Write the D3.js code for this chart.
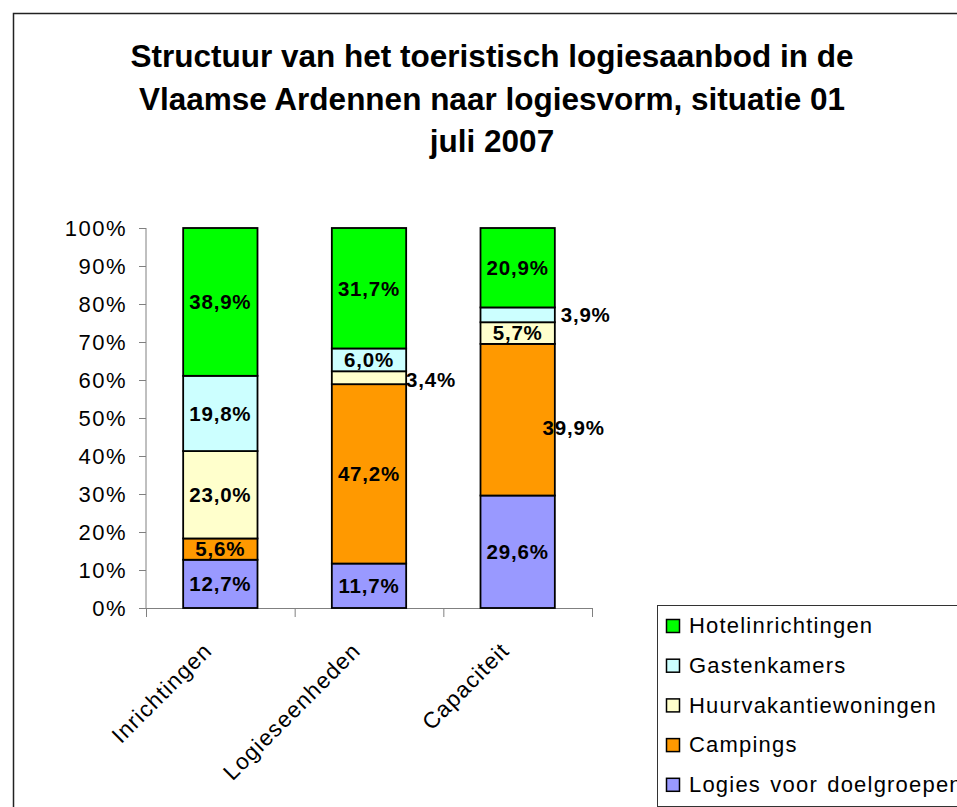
<!DOCTYPE html>
<html><head><meta charset="utf-8">
<script src="https://cdn.jsdelivr.net/npm/d3@7/dist/d3.min.js"></script>
<style>
html,body{margin:0;padding:0;background:#fff;overflow:hidden;}
text{font-family:Arial,"Liberation Sans",sans-serif;}
</style></head><body>
<svg id="chart" width="957" height="807"></svg>
<script>
const titleLines = ["Structuur van het toeristisch logiesaanbod in de","Vlaamse Ardennen naar logiesvorm, situatie 01","juli 2007"];
const categories = ["Inrichtingen","Logieseenheden","Capaciteit"];
const seriesNames = ["Logies voor doelgroepen","Campings","Huurvakantiewoningen","Gastenkamers","Hotelinrichtingen"];
const seriesColors = ["#9999FF","#FF9900","#FFFFCC","#CCFFFF","#00FF00"];
const logiesDoelgroepen = [12.7, 11.7, 29.6];
const campings = [5.6, 47.2, 39.9];
const huurvakantiewoningen = [23.0, 3.4, 5.7];
const gastenkamers = [19.8, 6.0, 3.9];
const hotelinrichtingen = [38.9, 31.7, 20.9];
const yTicks = [0,10,20,30,40,50,60,70,80,90,100];

const seriesValues = [logiesDoelgroepen, campings, huurvakantiewoningen, gastenkamers, hotelinrichtingen];
// manual label offsets (label moved beside its bar) keyed "series|category"
const labelShift = {"2|1":[62,2],"1|2":[56,8],"3|2":[68,0]};

const svg = d3.select("#chart");
// outer frame
svg.append("rect").attr("x",13.5).attr("y",13.5).attr("width",1000).attr("height",1000)
  .attr("fill","none").attr("stroke","#222").attr("stroke-width",1.5);

// title
svg.append("g").selectAll("text").data(titleLines).join("text")
  .attr("x",492).attr("y",(d,i)=>67+i*42.5)
  .attr("text-anchor","middle").attr("font-size",31.5).attr("font-weight","bold").attr("fill","#000")
  .text(d=>d);

const x0=146, x1=592, yTop=228, yBot=608;
const x = d3.scaleBand().domain(categories).range([x0,x1]).paddingInner(0.5).paddingOuter(0.25);
const y = d3.scaleLinear().domain([0,100]).range([yBot,yTop]);

// stack
const table = categories.map((c,ci)=>{const o={cat:c}; seriesNames.forEach((s,si)=>o[s]=seriesValues[si][ci]); return o;});
const stacked = d3.stack().keys(seriesNames)(table);

// axes
const yAxis = d3.axisLeft(y).tickValues(yTicks).tickFormat(d=>d+"%").tickSize(7).tickPadding(12);
const gy = svg.append("g").attr("transform",`translate(${x0},0)`).call(yAxis);
gy.selectAll("path,line").attr("stroke","#808080").attr("stroke-width",1);
gy.select(".domain").attr("d",`M0,${yTop}V${yBot}`);
gy.selectAll("text").attr("font-size",22).attr("letter-spacing","1.5px").attr("fill","#000")
  .style("font-family","Arial, 'Liberation Sans', sans-serif");

const xb = d3.scaleLinear().domain([0,categories.length]).range([x0,x1]);
const gx = svg.append("g").attr("transform",`translate(0,${yBot})`)
  .call(d3.axisBottom(xb).tickValues(d3.range(categories.length+1)).tickFormat("").tickSize(9).tickSizeOuter(0));
gx.selectAll("path,line").attr("stroke","#808080").attr("stroke-width",1);

// bars
const gBars = svg.append("g");
stacked.forEach((layer,si)=>{
  gBars.append("g").selectAll("rect").data(layer).join("rect")
    .attr("x",d=>x(d.data.cat)).attr("width",x.bandwidth())
    .attr("y",d=>y(d[1])).attr("height",d=>y(d[0])-y(d[1]))
    .attr("fill",seriesColors[si]).attr("stroke","#000").attr("stroke-width",1.8);
});

// value labels
const gLab = svg.append("g");
stacked.forEach((layer,si)=>{
  layer.forEach((d,ci)=>{
    const sh = labelShift[si+"|"+ci]||[0,0];
    gLab.append("text")
      .attr("x",x(d.data.cat)+x.bandwidth()/2+sh[0])
      .attr("y",y((d[0]+d[1])/2)+sh[1]).attr("dy","0.36em")
      .attr("text-anchor","middle").attr("font-size",20.5).attr("letter-spacing","0.8px")
      .attr("font-weight","bold").attr("fill","#000")
      .text(d3.format(".1f")(seriesValues[si][ci]).replace(".",",")+"%");
  });
});

// category labels
svg.append("g").selectAll("text").data(categories).join("text")
  .attr("transform",d=>`translate(${x(d)+x.bandwidth()/2-7},${yBot+44}) rotate(-45)`)
  .attr("text-anchor","end").attr("font-size",22.5).attr("letter-spacing","1.2px").attr("fill","#000")
  .text(d=>d);

// legend
const lg = svg.append("g");
lg.append("rect").attr("x",657.5).attr("y",605.5).attr("width",400).attr("height",201)
  .attr("fill","#fff").attr("stroke","#333").attr("stroke-width",1);
const legendOrder = [4,3,2,1,0];
legendOrder.forEach((si,i)=>{
  const cy = 626 + i*39.7;
  lg.append("rect").attr("x",666.5).attr("y",cy-6.5).attr("width",13).attr("height",13)
    .attr("fill",seriesColors[si]).attr("stroke","#000").attr("stroke-width",1.5);
  lg.append("text").attr("x",689).attr("y",cy).attr("dy","0.33em")
    .attr("font-size",22).attr("letter-spacing","1.2px").attr("word-spacing","2px").attr("fill","#000").text(seriesNames[si]);
});
</script></body></html>
